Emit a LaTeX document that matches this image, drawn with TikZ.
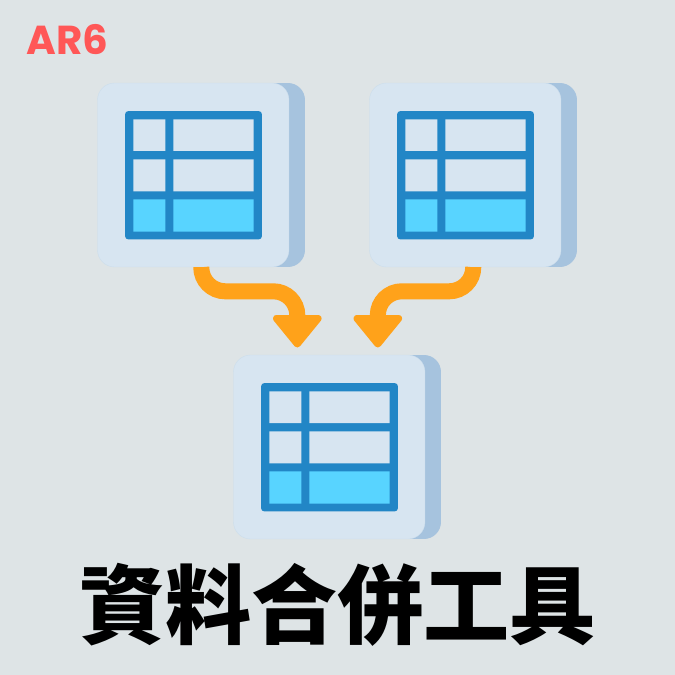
\documentclass[tikz,border=0pt]{standalone}
\usepackage{fontspec}
\newfontfamily\titlefont{Noto Sans CJK TC}
\newfontfamily\logofont{Poppins}
\usetikzlibrary{calc}
\definecolor{bgcol}{HTML}{DEE4E6}
\definecolor{frontcol}{HTML}{D7E5F1}
\definecolor{edgecol}{HTML}{CBDDEC}
\definecolor{backcol}{HTML}{A6C3DE}
\definecolor{tablecol}{HTML}{2286C6}
\definecolor{cyancol}{HTML}{58D4FF}
\definecolor{flowcol}{HTML}{FFA21A}
\definecolor{logocol}{HTML}{FF5757}
\tikzset{
	front/.style={draw=edgecol, line width=0.2pt, fill=frontcol, rounded corners=0.34cm, inner sep=0pt, minimum width=3.83cm, minimum height=3.68cm},
	back/.style={fill=backcol, rounded corners=0.34cm, inner sep=0pt, minimum width=3.83cm, minimum height=3.68cm},
	grid/.style={fill=tablecol, rounded corners=0.07cm, inner sep=0pt, minimum width=2.74cm, minimum height=2.57cm},
	flow/.style={draw=flowcol, line width=0.32cm, rounded corners=0.48cm},
	head/.style={fill=flowcol, draw=flowcol, line width=0.14cm, line join=round}
}
\begin{document}
\begin{tikzpicture}[x=0.02cm, y=-0.02cm, line cap=butt]
	\fill[bgcol] (0,0) rectangle (675,675);
	\node[logocol, font=\logofont\bfseries\fontsize{23}{23}\selectfont] (logo) at (67.5,39.5) {AR6};
	% three cards, each with its table
	\foreach \name/\dx/\dy in {A/0/0,B/272/0,C/136/272}{
		\begin{scope}[shift={(\dx,\dy)}]
			\node[back] (back\name) at (209.25,175) {};
			\node[front] (card\name) at (193.25,175) {};
			\node[grid] (table\name) at (193.5,175.25) {};
			\fill[frontcol] (133.3,119.3) rectangle (165.3,151)
			(173.3,119.3) rectangle (253.7,151)
			(133.3,159.3) rectangle (165.3,191.3)
			(173.3,159.3) rectangle (253.7,191.3);
			\fill[cyancol] (133.3,199.3) rectangle (165.3,231.7)
			(173.3,199.3) rectangle (253.7,231.7);
		\end{scope}
	}
	% arrows down to the third card
	\coordinate (inA) at (297.3,318);
	\coordinate (inB) at (377.8,318);
	\draw[flow] ($(cardA.south)+(8,0)$) |- (297.3,291.3) -- (inA);
	\draw[flow] ($(cardB.south)+(8,0)$) |- (377.8,291.3) -- (inB);
	\fill[head] (276.5,318.5) -- (318.1,318.5) -- (297.3,344) -- cycle;
	\fill[head] (357,318.5) -- (398.6,318.5) -- (377.8,344) -- cycle;
	\node[font=\titlefont\bfseries\fontsize{49}{49}\selectfont] (title) at (337.5,605) {資料合併工具};
\end{tikzpicture}
\end{document}
